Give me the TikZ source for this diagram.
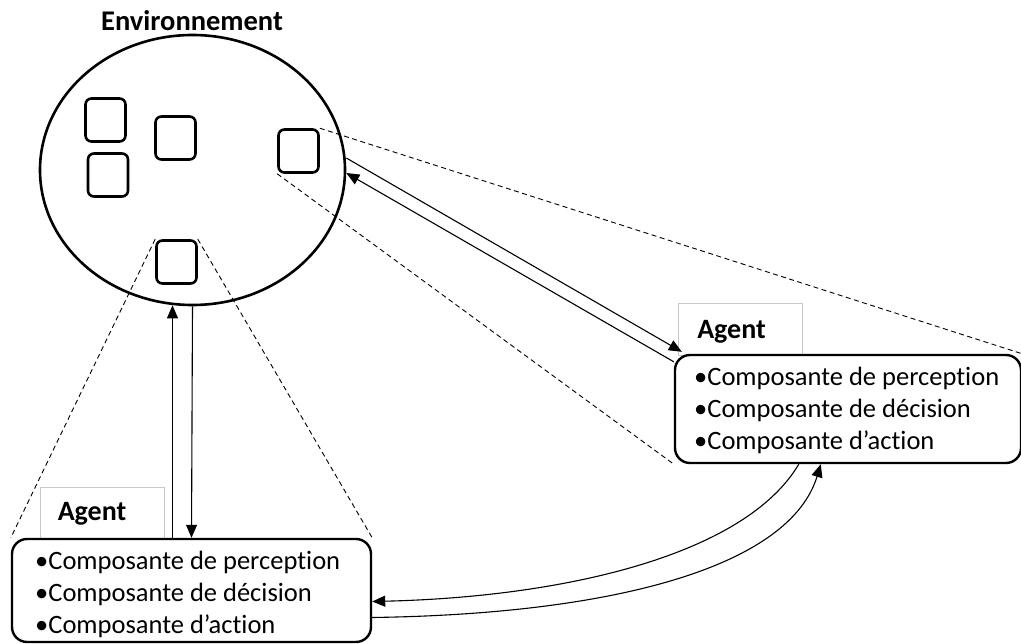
\documentclass[tikz,border=0pt]{standalone}
\usepackage{fontspec}
\setmainfont[RawFeature={-liga;-clig;-dlig;-calt;-rlig}]{Carlito}
\usetikzlibrary{arrows.meta,shapes.geometric}
\begin{document}
\begin{tikzpicture}[x=1pt,y=-1pt,
  envshape/.style={draw, ellipse, line width=2.6pt, minimum width=305pt, minimum height=270pt, inner sep=0pt},
  obj/.style={draw, line width=2.6pt, rounded corners=6pt, minimum width=40pt, minimum height=43pt, inner sep=0pt},
  agentbox/.style={draw, fill=white, line width=2.4pt, rounded corners=15pt, inner sep=0pt},
  labelbox/.style={draw=black!22, line width=0.9pt, minimum height=52pt, minimum width=124pt, inner sep=0pt},
  labeltext/.style={inner sep=0pt, anchor=west, font=\fontsize{28}{32}\selectfont\bfseries},
  lines/.style={align=left, inner sep=0pt, font=\fontsize{26.5}{32}\selectfont},
  conn/.style={line width=1.1pt, -{Triangle[length=13pt,width=11pt]}},
  zoomline/.style={line width=0.9pt, dash pattern=on 5pt off 3.5pt}
]
\useasboundingbox (0,0) rectangle (1021,644);
% environment
\node[inner sep=0pt, anchor=base, font=\fontsize{28.5}{32}\selectfont\bfseries] (title) at (192,31) {Environnement};
\node[envshape] (env) at (192.5,170) {};
\node[obj] (s1) at (105.5,120) {};
\node[obj] (s2) at (175.5,138) {};
\node[obj] (s3) at (108,175) {};
\node[obj] (s4) at (298.5,151) {};
\node[obj] (s5) at (176.5,262) {};
% agent label boxes
\node[labelbox] (rl) at (740.5,329) {};
\node[labelbox] (ll) at (102,513) {};
\node[labeltext] (rlt) at ([xshift=19pt,yshift=-3pt]rl.west) {Agent};
\node[labeltext] (llt) at ([xshift=18pt,yshift=-1pt]ll.west) {Agent};
% agent boxes
\node[agentbox, minimum width=346pt, minimum height=108pt] (ra) at (848,409) {};
\node[agentbox, minimum width=359pt, minimum height=103pt] (la) at (191.5,590.5) {};
\node[lines, anchor=west] (rat) at (694,410) {•Composante de perception\\•Composante de décision\\•Composante d’action};
\node[lines, anchor=west] (lat) at (35,594) {•Composante de perception\\•Composante de décision\\•Composante d’action};
% zoom (dashed) lines
\draw[zoomline] (s4.north east) -- (ra.north east);
\draw[zoomline] (s4.south west) -- (ra.south west);
\draw[zoomline] (s5.north west) -- (la.north west);
\draw[zoomline] (s5.north east) -- (la.north east);
% vertical arrows
\draw[conn] ([xshift=-19pt]la.north) -- ([xshift=-20pt,yshift=1pt]env.south);
\draw[conn] (env.south) -- (la.north);
% diagonal arrows
\draw[conn] ([yshift=12pt]env.east) -- ([xshift=8pt,yshift=2pt]ra.north west);
\draw[conn] ([yshift=-8pt]ra.north west) -- ([yshift=-3pt]env.east);
% curved arrows
\draw[conn] ([xshift=125pt]ra.south west) .. controls (745,555) and (565,597) .. ([yshift=-11pt]la.east);
\draw[conn] ([yshift=-27pt]la.east) .. controls (620,614) and (790,565) .. ([xshift=147pt]ra.south west);
\end{tikzpicture}
\end{document}
